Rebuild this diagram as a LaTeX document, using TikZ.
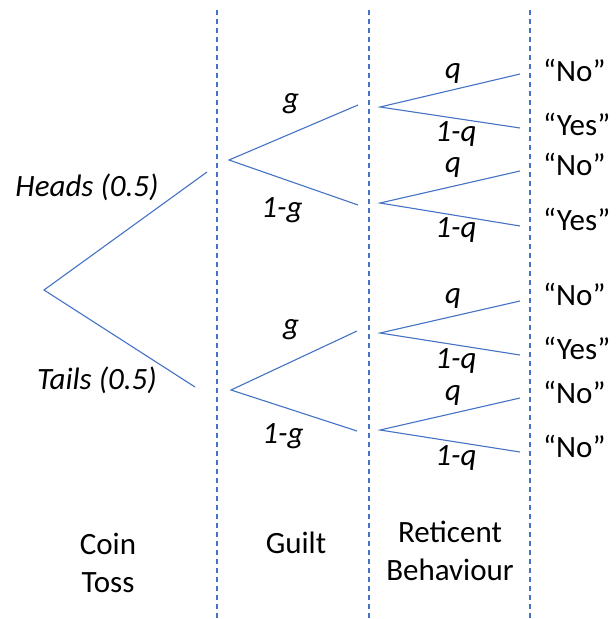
\documentclass[tikz,border=0pt]{standalone}
\usepackage{fontspec}
\setmainfont{Carlito}
\definecolor{obl}{RGB}{68,114,196}
\begin{document}
\begin{tikzpicture}[x=1pt,y=-1pt,
  branch/.style={draw=obl,line width=1.1pt},
  divider/.style={draw=obl,line width=1.1pt,dash pattern=on 5pt off 4pt},
  lbl/.style={font=\fontsize{31}{36}\selectfont\itshape,inner sep=0pt},
  outc/.style={font=\fontsize{31}{36}\selectfont,inner sep=0pt,anchor=west},
  colt/.style={font=\fontsize{31}{38}\selectfont,inner sep=0pt,align=center}]
\useasboundingbox (0,0) rectangle (616,619);
% dividers
\coordinate (d1t) at (217,10); \coordinate (d1b) at (217,619);
\coordinate (d2t) at (369,10); \coordinate (d2b) at (369,619);
\coordinate (d3t) at (530,10); \coordinate (d3b) at (530,619);
\draw[divider] (d1t) -- (d1b);
\draw[divider] (d2t) -- (d2b);
\draw[divider] (d3t) -- (d3b);
% coin toss
\coordinate (root) at (44,290);
\coordinate (hE) at (207,172);
\coordinate (tE) at (195,387);
\draw[branch] (hE) -- (root) -- (tE);
% guilt
\coordinate (gH) at (229,160);
\coordinate (gHa) at (358,105);
\coordinate (gHb) at (358,205);
\coordinate (gT) at (231,390);
\coordinate (gTa) at (357,331);
\coordinate (gTb) at (357,431);
\draw[branch] (gHa) -- (gH) -- (gHb);
\draw[branch] (gTa) -- (gT) -- (gTb);
% reticent
\coordinate (r1) at (380,107); \coordinate (r1a) at (520,74); \coordinate (r1b) at (520,128);
\coordinate (r2) at (380,203); \coordinate (r2a) at (520,171); \coordinate (r2b) at (520,226);
\coordinate (r3) at (380,333); \coordinate (r3a) at (520,301); \coordinate (r3b) at (520,355);
\coordinate (r4) at (380,430); \coordinate (r4a) at (520,398); \coordinate (r4b) at (520,452);
\draw[branch] (r1a) -- (r1) -- (r1b);
\draw[branch] (r2a) -- (r2) -- (r2b);
\draw[branch] (r3a) -- (r3) -- (r3b);
\draw[branch] (r4a) -- (r4) -- (r4b);
% labels
\node[lbl] (heads) at (87,187) {Heads (0.5)};
\node[lbl] (tails) at (97,380) {Tails (0.5)};
\node[lbl] (g1) at (291,104) {g};
\node[lbl] (ng1) at (282,210) {1-g};
\node[lbl] (g2) at (291,330) {g};
\node[lbl] (ng2) at (283,436) {1-g};
\node[lbl] (q1) at (453,73) {q};
\node[lbl] (nq1) at (456,134) {1-q};
\node[lbl] (q2) at (453,167) {q};
\node[lbl] (nq2) at (456,230) {1-q};
\node[lbl] (q3) at (453,298) {q};
\node[lbl] (nq3) at (456,361) {1-q};
\node[lbl] (q4) at (453,395) {q};
\node[lbl] (nq4) at (456,458) {1-q};
% outcomes
\node[outc] (o1) at (543,70) {“No”};
\node[outc] (o2) at (543,124) {“Yes”};
\node[outc] (o3) at (543,164) {“No”};
\node[outc] (o4) at (543,219) {“Yes”};
\node[outc] (o5) at (543,294) {“No”};
\node[outc] (o6) at (543,348) {“Yes”};
\node[outc] (o7) at (543,392) {“No”};
\node[outc] (o8) at (543,446) {“No”};
% column titles
\node[colt] (c1) at (108,563) {Coin\\Toss};
\node[colt] (c2) at (296,543) {Guilt};
\node[colt] (c3) at (450,551) {Reticent\\Behaviour};
\end{tikzpicture}
\end{document}
